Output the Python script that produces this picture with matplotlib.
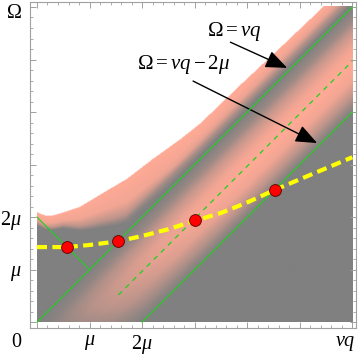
import numpy as np
import matplotlib.pyplot as plt
from matplotlib.patches import FancyArrowPatch

plt.rcParams['font.family'] = ['Liberation Serif', 'DejaVu Serif']
plt.rcParams['mathtext.fontset'] = 'custom'
plt.rcParams['mathtext.rm'] = 'Liberation Serif'
plt.rcParams['mathtext.it'] = 'Liberation Serif:italic'

# everything in units of mu
# upper edge of the continuum (white above it)
edge_vq = [0.0, 0.15, 0.29, 0.50, 0.82, 1.20, 1.71, 2.19, 2.72, 3.10, 3.87, 4.63, 5.45, 6.10]
edge_om = [2.08, 2.02, 2.02, 2.08, 2.19, 2.42, 2.72, 3.09, 3.47, 3.77, 4.51, 5.22, 6.00, 6.55]

# pink strength of the inner band, against vq - Omega
band_d = [-0.2, 0.0, 0.25, 0.5, 0.8, 1.1, 1.4, 1.7, 1.9, 2.05]
band_i = [0.0, 0.0, 0.2, 0.6, 0.92, 1.0, 0.9, 0.5, 0.15, 0.0]
# the inner band gets weaker at low Omega
fade_om = [0.0, 0.3, 0.7, 1.2, 2.0, 3.0]
fade_i = [0.3, 0.5, 0.65, 0.8, 0.95, 1.0]

# pink rim under the edge: depth below the edge (scaled by rim width)
rim_s = [0.0, 0.5, 0.8, 1.0]
rim_i = [1.0, 0.9, 0.5, 0.0]
rim_vq = [0.0, 0.5, 1.0, 1.7, 3.0, 6.0]
rim_w = [0.25, 0.3, 0.55, 0.85, 0.85, 0.85]
# the rim dies out towards the Omega = vq line
top_d = [-0.5, -0.35, -0.2, -0.05]
top_i = [1.0, 0.9, 0.4, 0.0]

# green lines
diag_vq = [0, 6]
diag_om = [0, 6]          # Omega = vq
low_vq = [2, 6]
low_om = [0, 4]           # Omega = vq - 2mu
back_vq = [0, 1]
back_om = [2, 1]          # Omega = 2mu - vq
mid_vq = [1.55, 6.0]
mid_om = [0.52, 4.97]     # dashed, Omega = vq - mu

# yellow dashed curve
curve_vq = [0.0, 0.57, 1.0, 1.54, 2.0, 2.5, 3.0, 3.5, 4.0, 4.53, 5.0, 5.5, 6.0]
curve_om = [1.43, 1.43, 1.47, 1.54, 1.64, 1.77, 1.93, 2.08, 2.28, 2.52, 2.72, 2.93, 3.14]

# red crossing points
dot_vq = [0.57, 1.54, 3.0, 4.53]
dot_om = [1.43, 1.54, 1.95, 2.52]

# annotations
labels = [r'$\Omega = vq$', r'$\Omega = vq - 2\mu$']
label_xy = [(3.75, 5.54), (2.78, 4.91)]
arrow_from = [(3.68, 5.33), (2.97, 4.59)]
arrow_to = [(4.76, 4.84), (5.33, 3.41)]

gray = np.array([128, 128, 128]) / 255
pink = np.array([255, 170, 150]) / 255

g = np.linspace(0, 6, 481)
VQ, OM = np.meshgrid(g, g)
edge = np.interp(VQ, edge_vq, edge_om)
width = np.interp(VQ, rim_vq, rim_w)
rim = np.interp((edge - OM) / width, rim_s, rim_i) * np.interp(VQ - OM, top_d, top_i)
band = np.interp(VQ - OM, band_d, band_i) * np.interp(OM, fade_om, fade_i)
inten = np.maximum(rim, band)
img = gray + inten[..., None] * (pink - gray)
img[OM > edge] = 1.0

fig = plt.figure(figsize=(3.6, 3.56), dpi=100)
ax = fig.add_axes([0.0833, 0.0787, 0.9056, 0.9157])
ax.imshow(img, extent=(0, 6, 0, 6), origin='lower', interpolation='bilinear', aspect='auto')

green = '#1ed21e'
ax.plot(diag_vq, diag_om, color=green, lw=0.8)
ax.plot(low_vq, low_om, color=green, lw=0.8)
ax.plot(back_vq, back_om, color=green, lw=0.8)
ax.plot(mid_vq, mid_om, color=green, lw=0.9, dashes=(4, 4))

ax.plot(curve_vq, curve_om, color='#ffff00', lw=3, dashes=(2.4, 1.3), solid_capstyle='butt')
ax.plot(dot_vq, dot_om, 'o', color='#ff0000', ms=8.5, mec='#5a0000', mew=0.6)

for txt, xy in zip(labels, label_xy):
    ax.text(xy[0], xy[1], txt, fontsize=15, ha='center', va='center')
for a, b in zip(arrow_from, arrow_to):
    ax.add_patch(FancyArrowPatch(a, b, arrowstyle='-|>,head_length=1.1,head_width=0.45',
                                 mutation_scale=12, color='black', lw=1.0, shrinkA=0, shrinkB=0))

ax.set_xlim(-0.133, 6.07)
ax.set_ylim(-0.11, 6.095)

ax.set_xticks(range(7), ['', r'$\mu$', r'$2\mu$', '', '', '', ''])
ax.set_yticks(range(7), ['', r'$\mu$', r'$2\mu$', '', '', '', ''])
ax.set_xticks(np.arange(0, 6.01, 0.2), minor=True)
ax.set_yticks(np.arange(0, 6.01, 0.2), minor=True)
ax.tick_params(which='both', direction='in', top=True, right=True, color='#a0a0a0', labelsize=14.5)
ax.tick_params(which='major', length=4, width=0.7)
ax.tick_params(which='minor', length=2, width=0.6)
ax.tick_params(axis='x', pad=3.5)
ax.tick_params(axis='y', pad=6)
for sp in ax.spines.values():
    sp.set_color('#a0a0a0')
    sp.set_linewidth(0.8)

ax.text(-0.40, -0.38, '0', fontsize=14.5, ha='center', va='center', clip_on=False)
ax.text(5.87, -0.40, r'$vq$', fontsize=14.5, ha='center', va='center', clip_on=False)
ax.text(-0.44, 5.87, r'$\Omega$', fontsize=14.5, ha='center', va='center', clip_on=False)

fig.savefig('out.png', dpi=100)
